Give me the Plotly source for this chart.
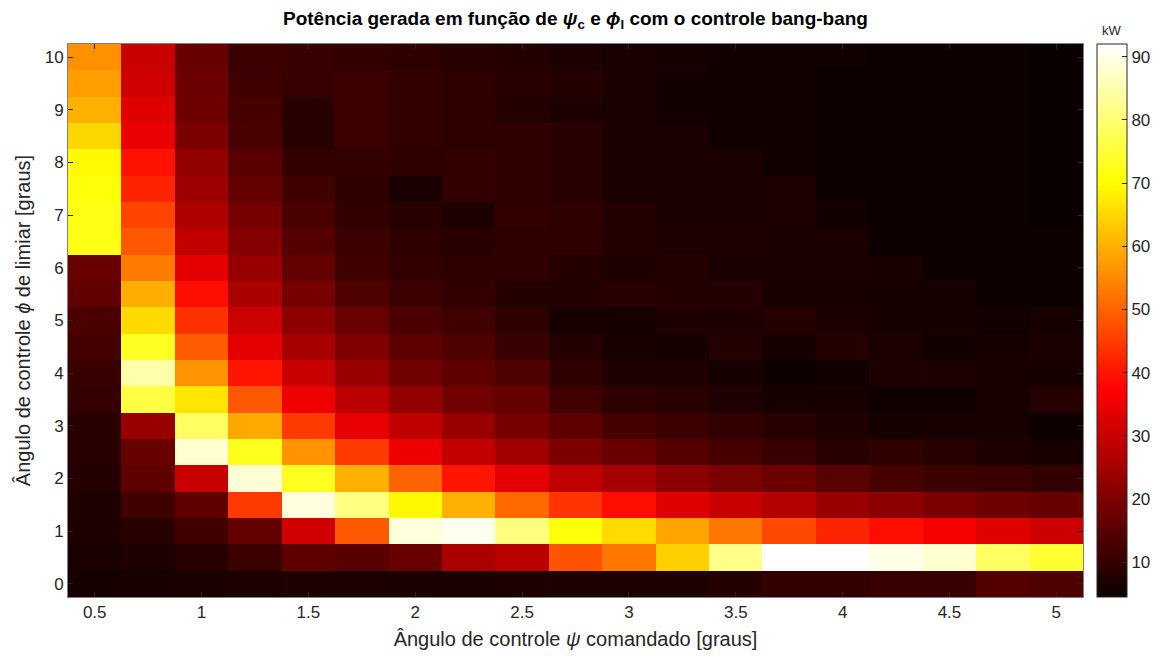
import plotly.graph_objects as go

# Commanded control angle psi_c [graus] (x categories)
psi_c = [0.5, 0.75, 1.0, 1.25, 1.5, 1.75, 2.0, 2.25, 2.5, 2.75, 3.0,
         3.25, 3.5, 3.75, 4.0, 4.25, 4.5, 4.75, 5.0]
# Threshold angle phi_l [graus] (rows, from top to bottom)
phi_l = [10, 9.5, 9, 8.5, 8, 7.5, 7, 6.5, 6, 5.5, 5, 4.5, 4, 3.5, 3,
         2.5, 2, 1.5, 1, 0.5, 0]

# Generated power [kW]; one list per psi_c column, values for phi_l = 10 ... 0
p_050 = [56, 57.7, 60, 65, 69.5, 71, 72, 72, 17, 16, 13, 12, 10.5, 10, 8.5, 8.5, 8, 7, 7, 6.5, 6]
p_075 = [30, 31, 33, 34.5, 39.6, 42, 46, 48.6, 53, 59.6, 65.5, 73, 84.7, 76, 23.4, 17, 15.6, 11.8, 8.5, 7.2, 6.3]
p_100 = [17, 17.6, 18, 19.5, 22.8, 24, 26.6, 29, 33.8, 39, 43.5, 49, 56.4, 66.8, 78.6, 88, 30, 15.6, 11.8, 8.5, 6.6]
p_125 = [11, 11.8, 12.4, 13, 15, 16.3, 18.9, 20.8, 23.4, 26, 30.5, 33.8, 40, 48.6, 59, 72.6, 88.5, 44.8, 16.3, 11, 6.8]
p_150 = [10.5, 10.5, 8.5, 8.5, 9.8, 11.8, 13, 14.3, 16.3, 18.9, 22, 25.4, 30, 35, 44.8, 56.4, 73, 89, 31, 15.6, 7.2]
p_175 = [9.8, 11, 11, 11, 9.8, 9.2, 9.8, 11, 11.8, 13.7, 17, 20, 23.4, 28, 34.4, 44.8, 60, 81.2, 48.6, 15, 6.8]
p_200 = [9.2, 9.8, 9.8, 9.8, 9.2, 6.6, 8.5, 9.2, 9.8, 11, 13, 15.6, 18.2, 22.8, 28.6, 35, 50, 69.4, 89, 17, 6.6]
p_225 = [8.5, 9.2, 9.2, 9.2, 9.8, 9.8, 7.2, 8.5, 9.2, 9.8, 11.8, 13.7, 15.6, 18.2, 23.4, 29.2, 40, 60, 90.7, 26, 6.6]
p_250 = [7.9, 8.5, 7.9, 9.2, 9.2, 9.2, 9.8, 9.2, 9.2, 7.9, 9.2, 10.5, 13.7, 16.3, 18.9, 24.7, 33.8, 51, 81, 28, 6.8]
p_275 = [7.2, 7.9, 7.2, 8.5, 8.5, 8.5, 9.2, 9.2, 7.9, 7.9, 6, 7.9, 9.2, 11.8, 15.6, 19.5, 28.6, 44, 71, 48, 7.2]
p_300 = [6.6, 6.6, 6.6, 6.6, 6.6, 6.6, 7.9, 7.6, 7.2, 8.5, 6, 6.3, 7.2, 9.2, 12.4, 17, 25.4, 39, 65.5, 52.5, 7.2]
p_325 = [6, 5.5, 5.5, 6.6, 6.6, 6.6, 6.6, 6.8, 7.9, 7.9, 7.2, 6, 7.2, 8.5, 11, 14.3, 22, 33, 58.4, 64, 7.2]
p_350 = [5.5, 5.3, 5.3, 5.3, 6.6, 6.6, 6.6, 6.8, 6.6, 7.9, 7.2, 7.9, 6, 7.2, 9.8, 12.4, 19.5, 30, 52.5, 82, 7.9]
p_375 = [5.3, 5.3, 5.3, 5.3, 5.3, 6.8, 6.8, 6.6, 6.6, 6.3, 7.9, 6, 5, 6, 8.5, 10.5, 17.6, 27.3, 46.7, 92, 9.8]
p_400 = [5.3, 5, 5, 5, 5, 5, 5.5, 6.6, 6.6, 6.3, 6.6, 7.9, 5.3, 6, 7.2, 8.5, 15, 23.4, 42, 92, 9.8]
p_425 = [5, 5, 5, 5, 5, 5, 5, 5, 6.3, 6, 6, 6.8, 7.2, 5, 6, 9.2, 12.4, 22, 39, 90, 10.5]
p_450 = [5, 5, 5, 5, 5, 5, 5, 5, 5, 6, 6, 5.5, 6.8, 5, 6.3, 8.5, 11, 19.5, 36.5, 88, 10.5]
p_475 = [4.8, 4.8, 4.8, 4.8, 4.8, 4.8, 4.8, 4.8, 4.8, 5, 5.5, 6, 6.3, 6.3, 6.3, 7.2, 10.5, 18, 33, 78.6, 14.3]
p_500 = [4.5, 4.5, 4.5, 4.5, 4.5, 4.5, 4.5, 4.8, 4.8, 4.8, 6, 6.6, 6, 7.9, 5, 6.3, 9.8, 17, 30.5, 74.3, 13.7]

columns = [p_050, p_075, p_100, p_125, p_150, p_175, p_200, p_225, p_250, p_275,
           p_300, p_325, p_350, p_375, p_400, p_425, p_450, p_475, p_500]

x_ticks = [0.5, 1, 1.5, 2, 2.5, 3, 3.5, 4, 4.5, 5]
x_ticktext = ["0.5", "1", "1.5", "2", "2.5", "3", "3.5", "4", "4.5", "5"]
y_ticks = [0, 1, 2, 3, 4, 5, 6, 7, 8, 9, 10]
cb_ticks = [10, 20, 30, 40, 50, 60, 70, 80, 90]

z = [list(row) for row in zip(*columns)]

hot = [[0.0, "rgb(11,0,0)"], [0.375, "rgb(255,0,0)"],
       [0.75, "rgb(255,255,0)"], [1.0, "rgb(255,255,255)"]]

FONT = "Liberation Sans, Arial, Helvetica, sans-serif"
TXT = "#262626"

W, H = 1162, 656
ML, MR, MT, MB = 68, 79, 44, 59
PW, PH = W - ML - MR, H - MT - MB

fig = go.Figure(go.Heatmap(
    x=psi_c, y=phi_l, z=z, colorscale=hot,
    colorbar=dict(
        x=(1097 - ML) / PW, xanchor="left", xpad=0, ypad=0,
        y=0.5, yanchor="middle", len=1.0,
        thickness=30, outlinecolor="#262626", outlinewidth=1,
        tickvals=cb_ticks, ticks="inside", ticklen=5, tickcolor="#262626",
        tickfont=dict(family=FONT, size=17, color=TXT),
    ),
))

fig.add_annotation(
    text="kW", xref="paper", yref="paper",
    x=(1112 - ML) / PW, y=1 + (MT - 30) / PH, xanchor="center", yanchor="middle",
    showarrow=False, font=dict(family=FONT, size=13, color=TXT),
)

fig.update_layout(
    width=W, height=H,
    margin=dict(l=ML, r=MR, t=MT, b=MB, autoexpand=False),
    paper_bgcolor="white", plot_bgcolor="white",
    font=dict(family=FONT, color=TXT),
    title=dict(
        text="<b>Potência gerada em função de <i>ψ</i><sub>c</sub> e <i>ϕ</i><sub>l</sub> com o controle bang-bang</b>",
        x=0.5, xref="paper", xanchor="center", y=1 - 18 / H, yanchor="middle",
        font=dict(family=FONT, size=19, color="black"),
    ),
    xaxis=dict(
        range=[0.375, 5.125], tickvals=x_ticks, ticktext=x_ticktext,
        ticks="inside", ticklen=5, tickcolor="#262626", mirror="ticks",
        showline=True, linecolor="#808080", linewidth=1, showgrid=False, zeroline=False,
        tickfont=dict(family=FONT, size=17, color=TXT),
        title=dict(text="Ângulo de controle <i>ψ</i> comandado [graus]",
                   font=dict(family=FONT, size=20, color=TXT), standoff=10),
    ),
    yaxis=dict(
        range=[-0.25, 10.25], tickvals=y_ticks,
        ticks="inside", ticklen=5, tickcolor="#262626", mirror="ticks",
        showline=True, linecolor="#808080", linewidth=1, showgrid=False, zeroline=False,
        tickfont=dict(family=FONT, size=17, color=TXT),
        title=dict(text="Ângulo de controle <i>ϕ</i> de limiar [graus]",
                   font=dict(family=FONT, size=20, color=TXT), standoff=8),
    ),
)

fig.write_html("out.html")
